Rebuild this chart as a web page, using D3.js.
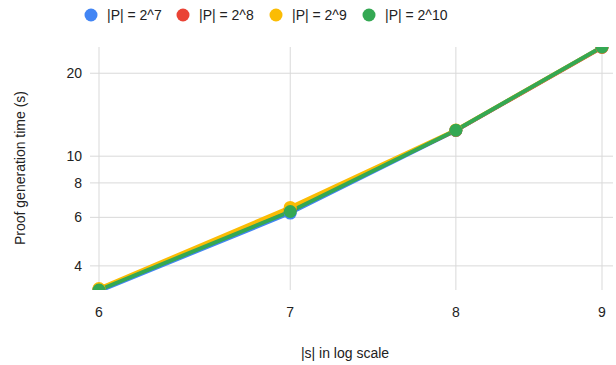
<!DOCTYPE html>
<html>
<head>
<meta charset="utf-8">
<script src="https://cdn.jsdelivr.net/npm/d3@7"></script>
<style>
  body { margin: 0; background: #fff; }
  text { font-family: Arial, "Liberation Sans", sans-serif; font-size: 14px; fill: #222; }
</style>
</head>
<body>
<svg id="chart" width="616" height="365"></svg>
<script>
// |s| (log scale)
var sizes = [6, 7, 8, 9];
var seriesNames = ["|P| = 2^7", "|P| = 2^8", "|P| = 2^9", "|P| = 2^10"];
var seriesColors = ["#4285f4", "#ea4335", "#fbbc04", "#34a853"];
// proof generation time (s)
var p7 = [3.24, 6.22, 12.4, 24.9];
var p8 = [3.29, 6.42, 12.4, 24.8];
var p9 = [3.31, 6.52, 12.45, 24.9];
var p10 = [3.27, 6.30, 12.42, 24.9];
var yTicks = [4, 6, 8, 10, 20];

var series = [p7, p8, p9, p10];

var svg = d3.select("#chart");
var plot = {left: 90, right: 613, top: 47, bottom: 290};

var x = d3.scaleLog().domain([6, 9]).range([99, 602]);
var y = d3.scaleLog().domain([3.27, 24.9]).range([plot.bottom, plot.top]);

// gridlines
svg.append("g").selectAll("line").data(yTicks).enter().append("line")
  .attr("x1", plot.left).attr("x2", plot.right)
  .attr("y1", function(d){ return y(d); }).attr("y2", function(d){ return y(d); })
  .style("stroke", "#d9d9d9").style("stroke-width", 1);

svg.append("g").selectAll("line").data(sizes).enter().append("line")
  .attr("x1", function(d){ return x(d); }).attr("x2", function(d){ return x(d); })
  .attr("y1", plot.top).attr("y2", plot.bottom)
  .style("stroke", "#d9d9d9").style("stroke-width", 1);

// tick labels
svg.append("g").selectAll("text").data(yTicks).enter().append("text")
  .attr("x", 82).attr("y", function(d){ return y(d); })
  .attr("dy", "0.35em").attr("text-anchor", "end")
  .text(function(d){ return d; });

svg.append("g").selectAll("text").data(sizes).enter().append("text")
  .attr("x", function(d){ return x(d); }).attr("y", 312)
  .attr("dy", "0.35em").attr("text-anchor", "middle")
  .text(function(d){ return d; });

// axis titles
svg.append("text").attr("x", 345).attr("y", 353).attr("dy", "0.35em")
  .attr("text-anchor", "middle").text("|s| in log scale");
svg.append("text").attr("transform", "translate(20,168) rotate(-90)")
  .attr("dy", "0.35em").attr("text-anchor", "middle")
  .text("Proof generation time (s)");

// series
svg.append("clipPath").attr("id", "clip").append("rect")
  .attr("x", 0).attr("y", plot.top).attr("width", 616).attr("height", plot.bottom - plot.top);

var area = svg.append("g").attr("clip-path", "url(#clip)");
var line = d3.line()
  .x(function(d, i){ return x(sizes[i]); })
  .y(function(d){ return y(d); });

series.forEach(function(vals, k){
  area.append("path").datum(vals)
    .attr("d", line)
    .style("fill", "none")
    .style("stroke", seriesColors[k])
    .style("stroke-width", 4);
});
series.forEach(function(vals, k){
  area.selectAll(".pt" + k).data(vals).enter().append("circle")
    .attr("class", "pt" + k)
    .attr("cx", function(d, i){ return x(sizes[i]); })
    .attr("cy", function(d){ return y(d); })
    .attr("r", 6.5)
    .style("fill", seriesColors[k]);
});

// legend
var legendX = [91, 183, 276, 369];
var legend = svg.append("g").selectAll("g").data(seriesNames).enter().append("g")
  .attr("transform", function(d, i){ return "translate(" + legendX[i] + ",15)"; });
legend.append("circle").attr("r", 6.5).style("fill", function(d, i){ return seriesColors[i]; });
legend.append("text").attr("x", 16).attr("dy", "0.35em").text(function(d){ return d; });
</script>
</body>
</html>
